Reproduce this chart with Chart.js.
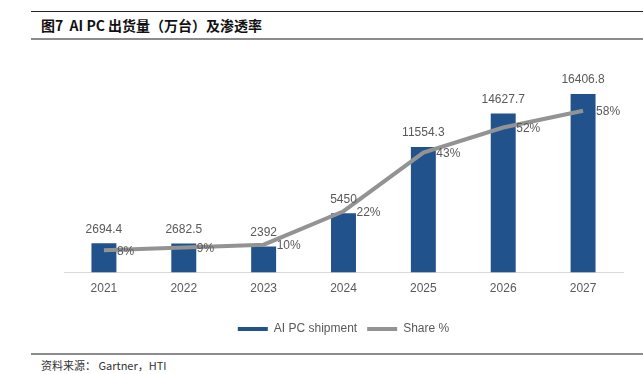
<!DOCTYPE html>
<html>
<head>
<meta charset="utf-8">
<script src="https://cdn.jsdelivr.net/npm/chart.js@4"></script>
<style>
  body { margin: 0; background: #fff; width: 643px; height: 374px; position: relative; overflow: hidden; }
  .rule-top { position: absolute; left: 31px; top: 11px; width: 612px; height: 1px; background: #222; }
  .title { position: absolute; left: 41px; top: 15px; font: bold 14px "Noto Sans CJK SC", sans-serif; color: #111; line-height: 20px; }
  .rule-mid { position: absolute; left: 31px; top: 38px; width: 612px; height: 2px; background: #8c8c8c; }
  .chart-box { position: absolute; left: 0; top: 40px; width: 643px; height: 305px; }
  .rule-bot { position: absolute; left: 31px; top: 353px; width: 612px; height: 2px; background: #8c8c8c; }
  .source { position: absolute; left: 41px; top: 357px; font: 11px "Noto Sans CJK SC", sans-serif; color: #333; line-height: 16px; }
</style>
</head>
<body>
<div class="rule-top"></div>
<div class="title">图7&nbsp;&nbsp;AI PC 出货量（万台）及渗透率</div>
<div class="rule-mid"></div>
<div class="chart-box"><canvas id="aipc"></canvas></div>
<div class="rule-bot"></div>
<div class="source">资料来源：&nbsp;Gartner，HTI</div>

<script>
const years = ['2021', '2022', '2023', '2024', '2025', '2026', '2027'];
const shipments = [2694.4, 2682.5, 2392, 5450, 11554.3, 14627.7, 16406.8];
const shares = [8, 9, 10, 22, 43, 52, 58];

const barColor = '#22528b';
const lineColor = '#939393';
const textColor = '#595959';
const labelFont = '12px "Liberation Sans", Arial, sans-serif';

// value labels: numbers above bars, percentages right of the points
const valueLabels = {
    id: 'valueLabels',
    afterDatasetsDraw(chart) {
        const ctx = chart.ctx;
        ctx.save();
        ctx.font = labelFont;
        ctx.fillStyle = textColor;

        const bars = chart.getDatasetMeta(0).data;
        ctx.textAlign = 'center';
        ctx.textBaseline = 'bottom';
        bars.forEach((bar, i) => {
            ctx.fillText(String(shipments[i]), bar.x, bar.y - 8);
        });

        const points = chart.getDatasetMeta(1).data;
        ctx.textAlign = 'left';
        ctx.textBaseline = 'middle';
        points.forEach((pt, i) => {
            ctx.fillText(shares[i] + '%', pt.x + 13, pt.y + 1);
        });
        ctx.restore();
    }
};

const ctx = document.getElementById('aipc').getContext('2d');
const chart = new Chart(ctx, {
    type: 'bar',
    data: {
        labels: years,
        datasets: [{
            label: 'AI PC shipment',
            data: shipments,
            backgroundColor: barColor,
            yAxisID: 'y',
            order: 1,
            barPercentage: 0.625,
            categoryPercentage: 0.5
        }, {
            type: 'line',
            label: 'Share %',
            data: shares,
            borderColor: lineColor,
            backgroundColor: lineColor,
            borderWidth: 4,
            pointRadius: 0,
            tension: 0,
            yAxisID: 'y1',
            order: 0
        }]
    },
    options: {
        responsive: true,
        maintainAspectRatio: false,
        animation: false,
        layout: {
            padding: { left: 64, right: 20, top: 15, bottom: 0 }
        },
        scales: {
            x: {
                grid: { display: false },
                border: { color: '#d9d9d9', width: 1 },
                ticks: {
                    color: textColor,
                    font: { family: '"Liberation Sans", Arial, sans-serif', size: 12 },
                    padding: 1
                },
                afterFit(scale) {
                    scale.height += 16;
                }
            },
            y: {
                display: false,
                min: 0,
                max: 20000
            },
            y1: {
                display: false,
                min: 0,
                max: 78
            }
        },
        plugins: {
            tooltip: { enabled: false },
            legend: {
                position: 'bottom',
                sort: (a, b) => a.datasetIndex - b.datasetIndex,
                labels: {
                    color: textColor,
                    font: { family: '"Liberation Sans", Arial, sans-serif', size: 12 },
                    boxWidth: 30,
                    boxHeight: 4,
                    padding: 10,
                    generateLabels(chart) {
                        return chart.data.datasets.map((ds, i) => ({
                            text: ds.label,
                            fillStyle: i === 0 ? barColor : lineColor,
                            strokeStyle: i === 0 ? barColor : lineColor,
                            lineWidth: 0,
                            fontColor: textColor,
                            datasetIndex: i
                        }));
                    }
                }
            }
        }
    },
    plugins: [valueLabels]
});
</script>
</body>
</html>
